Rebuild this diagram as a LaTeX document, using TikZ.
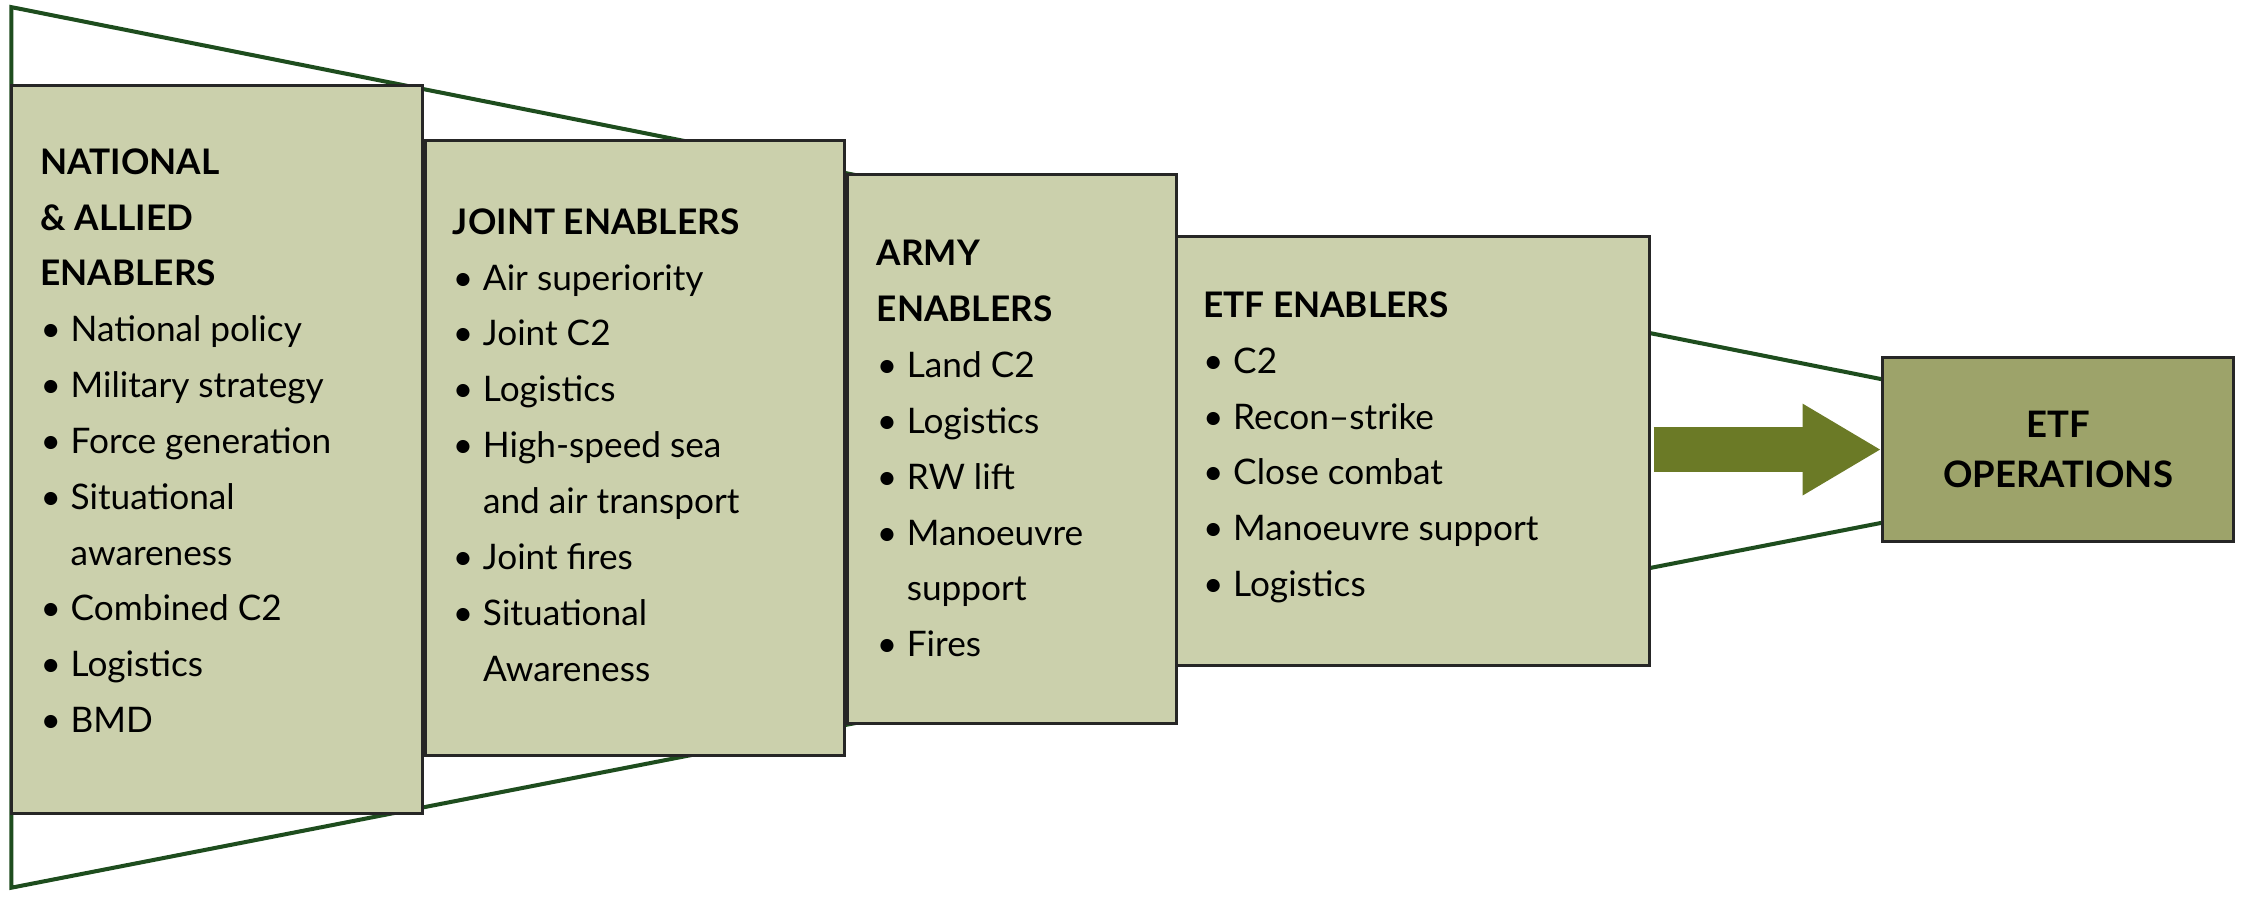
\documentclass[tikz,border=0pt]{standalone}
\usepackage{fontspec}
\setmainfont{Lato}
\usetikzlibrary{arrows.meta}
\definecolor{boxfill}{HTML}{CBD0AC}
\definecolor{finfill}{HTML}{9DA36A}
\definecolor{funnel}{HTML}{1E4D1E}
\definecolor{arr}{HTML}{6B7A26}
\newcommand{\myitem}[1]{\makebox[0.42cm][l]{\textbullet}#1}
\newcommand{\mycont}[1]{\hspace*{0.42cm}#1}
\begin{document}
\begin{tikzpicture}[x=0.02cm,y=-0.02cm]
\tikzset{enab/.style={draw=black!85,line width=1.2pt,fill=boxfill},
  txtbox/.style={anchor=north west,inner sep=0pt,font=\fontsize{14pt}{22.2pt}\selectfont}}
\useasboundingbox (0,0) rectangle (1568,634);
\coordinate (ftl) at (8,5);
\coordinate (fbl) at (8,620);
\coordinate (ftr) at (1315,265);
\coordinate (fbr) at (1315,365);
\draw[funnel,line width=1.6pt] (ftr) -- (ftl) -- (fbl) -- (fbr);
\draw[enab] (8,60) rectangle (295,568);
\draw[enab] (297,98) rectangle (590,528);
\draw[enab] (592,122) rectangle (822,505);
\draw[enab] (822,165) rectangle (1152,465);
\node[draw=black!85,line width=1.2pt,fill=finfill,minimum width=4.9cm,minimum height=2.56cm,font=\bfseries\fontsize{14.5pt}{20pt}\selectfont,align=center] (fin) at (1437.5,314) {ETF\\OPERATIONS};
\coordinate (as) at (1155,314);
\draw[-{Triangle[length=1.1cm,width=1.2cm]},arr,line width=0.62cm] (as) -- (fin.west);
\node[txtbox] (t1) at (28,94) {\begin{tabular}{@{}l@{}}
\textbf{NATIONAL}\\ \textbf{\& ALLIED}\\ \textbf{ENABLERS}\\
\myitem{National policy}\\ \myitem{Military strategy}\\ \myitem{Force generation}\\ \myitem{Situational}\\ \mycont{awareness}\\ \myitem{Combined C2}\\ \myitem{Logistics}\\ \myitem{BMD}
\end{tabular}};
\node[txtbox] (t2) at (316,136) {\begin{tabular}{@{}l@{}}
\textbf{JOINT ENABLERS}\\
\myitem{Air superiority}\\ \myitem{Joint C2}\\ \myitem{Logistics}\\ \myitem{High-speed sea}\\ \mycont{and air transport}\\ \myitem{Joint fires}\\ \myitem{Situational}\\ \mycont{Awareness}
\end{tabular}};
\node[txtbox] (t3) at (612,158) {\begin{tabular}{@{}l@{}}
\textbf{ARMY}\\ \textbf{ENABLERS}\\
\myitem{Land C2}\\ \myitem{Logistics}\\ \myitem{RW lift}\\ \myitem{Manoeuvre}\\ \mycont{support}\\ \myitem{Fires}
\end{tabular}};
\node[txtbox] (t4) at (840,194) {\begin{tabular}{@{}l@{}}
\textbf{ETF ENABLERS}\\
\myitem{C2}\\ \myitem{Recon–strike}\\ \myitem{Close combat}\\ \myitem{Manoeuvre support}\\ \myitem{Logistics}
\end{tabular}};
\end{tikzpicture}
\end{document}
